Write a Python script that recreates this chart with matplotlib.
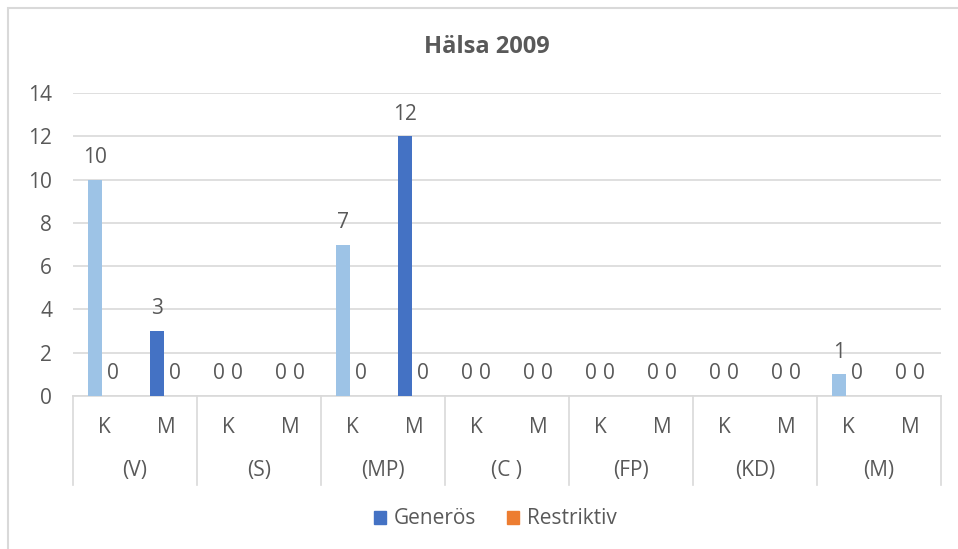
import numpy as np
import matplotlib.pyplot as plt
from matplotlib.patches import Patch, Rectangle
from matplotlib.lines import Line2D

# Data
parties = ["(V)", "(S)", "(MP)", "(C )", "(FP)", "(KD)", "(M)"]
genders = ["K", "M"]
generos_k = [10, 0, 7, 0, 0, 0, 1]
generos_m = [3, 0, 12, 0, 0, 0, 0]
restriktiv_k = [0, 0, 0, 0, 0, 0, 0]
restriktiv_m = [0, 0, 0, 0, 0, 0, 0]

# interleave K/M per party
generos = [v for pair in zip(generos_k, generos_m) for v in pair]
restriktiv = [v for pair in zip(restriktiv_k, restriktiv_m) for v in pair]
sub_labels = genders * len(parties)

light_blue = "#9DC3E6"
dark_blue = "#4472C4"
orange = "#ED7D31"
grid_c = "#D9D9D9"
text_c = "#595959"
fs = 15

plt.rcParams['font.family'] = ['Open Sans', 'DejaVu Sans']

fig = plt.figure(figsize=(9.58, 5.49), dpi=100)
ax = fig.add_axes([73 / 958, 1 - 396 / 549, 868 / 958, 303 / 549])

x = np.arange(len(generos))
w = 0.24
off = 0.145
colors = [light_blue if s == "K" else dark_blue for s in sub_labels]
b1 = ax.bar(x - off, generos, w, color=colors, zorder=3)
b2 = ax.bar(x + off, restriktiv, w, color=orange, zorder=3)

for bars, vals in [(b1, generos), (b2, restriktiv)]:
    for rect, v in zip(bars, vals):
        ax.annotate(str(v), (rect.get_x() + rect.get_width() / 2, v),
                    xytext=(0, 12), textcoords="offset points",
                    ha="center", va="baseline", fontsize=fs, color=text_c)

ax.set_xlim(-0.5, len(generos) - 0.5)
ax.set_ylim(0, 14)
ax.set_yticks(range(0, 15, 2))
ax.yaxis.grid(True, color=grid_c, linewidth=1.2, zorder=0)
ax.set_xticks([])
ax.tick_params(axis="y", length=0, pad=15, labelsize=fs, labelcolor=text_c)
for s in ["top", "right", "left"]:
    ax.spines[s].set_visible(False)
ax.spines["bottom"].set_color(grid_c)
ax.spines["bottom"].set_linewidth(1.2)

# two-level category axis
trans = ax.get_xaxis_transform()
for i, lab in enumerate(sub_labels):
    ax.text(i, -0.105, lab, transform=trans, ha="center", va="center",
            fontsize=fs, color=text_c)
for j, p in enumerate(parties):
    ax.text(2 * j + 0.5, -0.245, p, transform=trans, ha="center", va="center",
            fontsize=fs, color=text_c)
for j in range(len(parties) + 1):
    ax.add_line(Line2D([2 * j - 0.5] * 2, [0, -0.294], transform=trans,
                       color=grid_c, linewidth=1.2, clip_on=False))

fig.text(487 / 958, 1 - 47 / 549, "Hälsa 2009", ha="center", va="center",
         fontsize=17, fontweight="bold", color=text_c)

handles = [Patch(color=dark_blue, label="Generös"),
           Patch(color=orange, label="Restriktiv")]
fig.legend(handles=handles, loc="center", bbox_to_anchor=(495 / 958, 1 - 519 / 549),
           ncol=2, frameon=False, fontsize=fs, labelcolor=text_c,
           handlelength=0.6, handleheight=0.6, handletextpad=0.35, columnspacing=1.5)

# chart border
fig.patches.append(Rectangle((8 / 958, -0.01), 1.0, 1 - 8 / 549 + 0.01,
                             transform=fig.transFigure, fill=False,
                             edgecolor=grid_c, linewidth=1.5))

fig.savefig("out.png", dpi=100)
